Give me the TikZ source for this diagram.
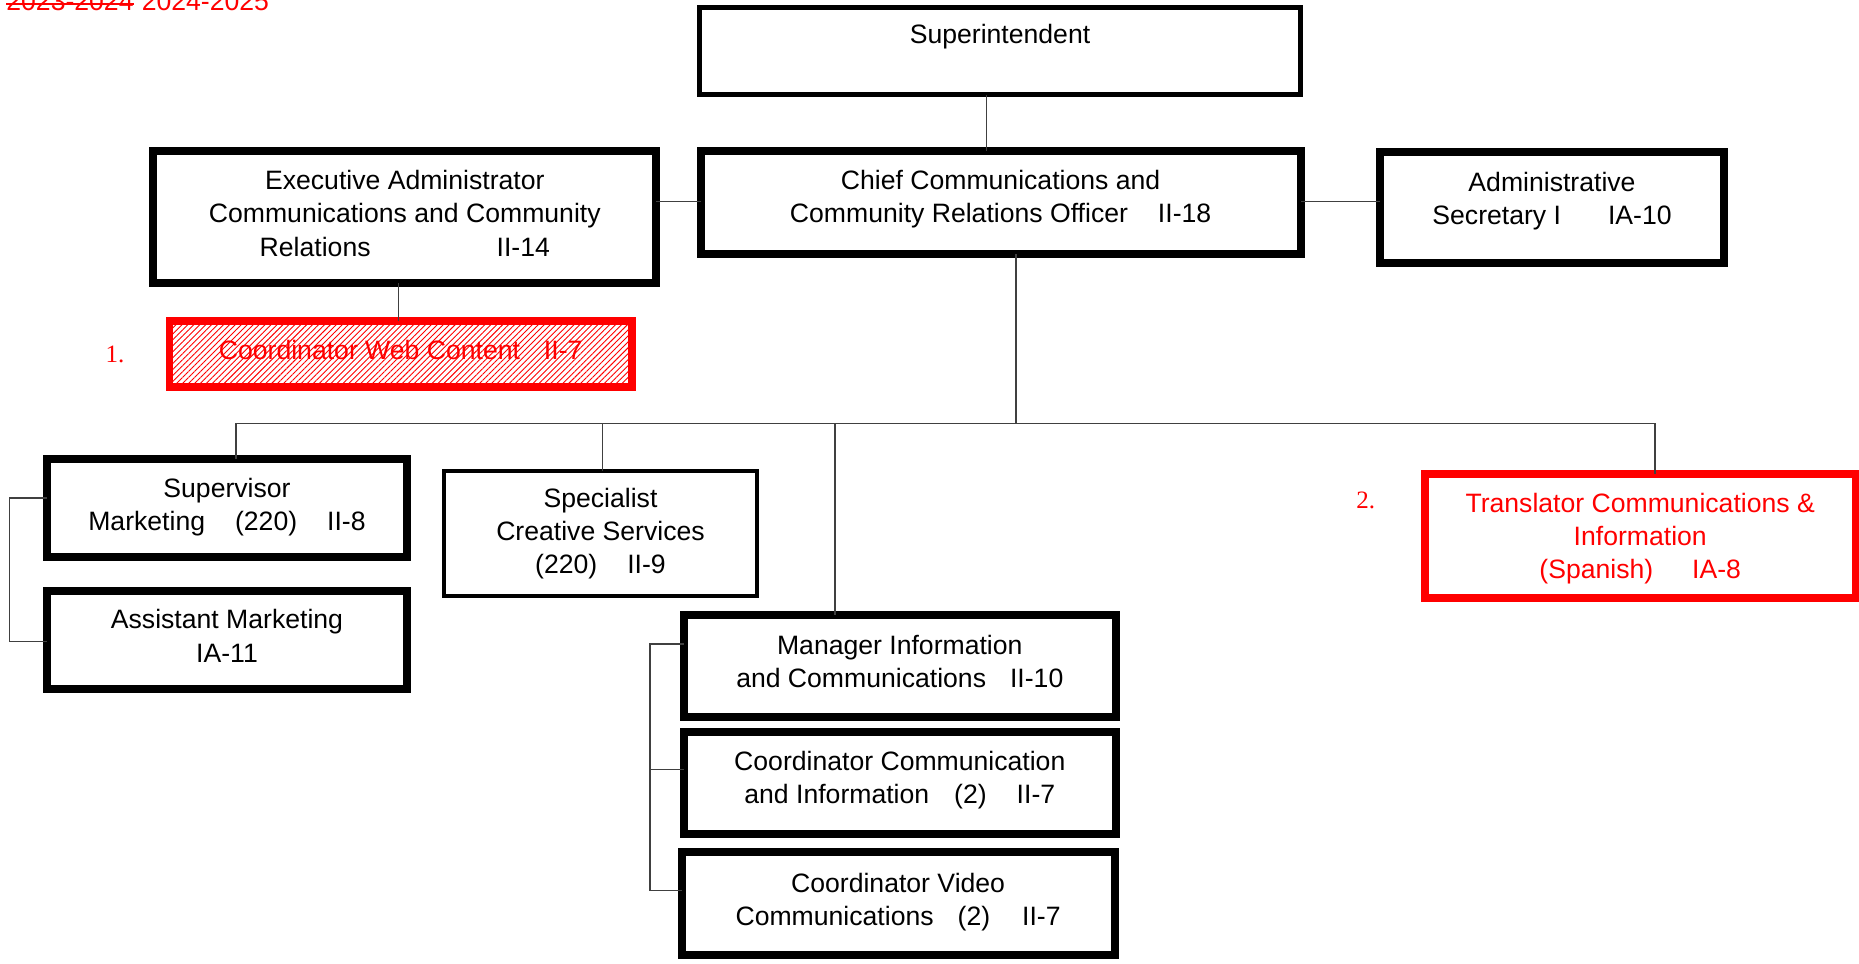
\documentclass[tikz,border=0pt]{standalone}
\usepackage{fontspec}
\setmainfont{Liberation Sans}
\newfontfamily\numserif{Liberation Serif}
\usetikzlibrary{patterns.meta}
\definecolor{conn}{HTML}{404040}
\definecolor{pure}{HTML}{FF0000}
\tikzset{
  base/.style={rectangle, outer sep=0pt, inner sep=2pt, fill=white},
  txt/.style={align=center, inner sep=0pt, font=\fontsize{13.3}{16.6}\selectfont},
  redtxt/.style={txt, text=pure},
  thickbox/.style={base, draw=black, line width=4pt},
  supbox/.style={base, draw=black, line width=2.5pt},
  thinbox/.style={base, draw=black, line width=2pt},
  redbox/.style={base, draw=pure, line width=3.8pt},
  conline/.style={draw=conn, line width=0.8pt},
  numlabel/.style={font=\numserif\fontsize{12.5}{15}\selectfont, text=pure, inner sep=0pt},
  yeartext/.style={inner sep=0pt, text=pure, font=\fontsize{13.3}{16.6}\selectfont}
}
\begin{document}
\begin{tikzpicture}[x=0.5pt,y=-0.5pt]
\useasboundingbox (0,0) rectangle (1859,964);
\fill[white] (0,0) rectangle (1859,964);

% helper coordinates
\coordinate (v1) at (986.4,0);
\coordinate (h1) at (0,201.6);
\coordinate (v2) at (398.4,0);
\coordinate (v3) at (1016.1,0);
\coordinate (busL) at (235.9,423.3);
\coordinate (busR) at (1655.1,423.3);
\coordinate (v4) at (834.7,0);
\coordinate (v5) at (602.3,0);
\coordinate (bk1) at (9.5,498);
\coordinate (bk1b) at (9.5,641.4);
\coordinate (bk2) at (649.7,643.8);
\coordinate (bk3) at (649.7,769.5);
\coordinate (bk4) at (649.7,890.4);

% boxes
\node[supbox, minimum width=300.2pt, minimum height=43.8pt,
  label={[txt, yshift=7.1pt]center:{Superintendent}}] (sup) at (1000,51) {};
\node[thickbox, minimum width=300pt, minimum height=51.5pt,
  label={[txt, yshift=1.8pt]center:{Chief Communications and\\Community Relations Officer\hspace{15pt}II-18}}] (chief) at (1000.6,202.7) {};
\node[thickbox, minimum width=251.5pt, minimum height=66.3pt,
  label={[txt, yshift=1.8pt]center:{Executive Administrator\\Communications and Community\\Relations\hspace{63pt}II-14}}] (exec) at (404.8,217) {};
\node[thickbox, minimum width=172pt, minimum height=55.1pt,
  label={[txt, yshift=3pt]center:{Administrative\\Secretary I\hspace{23.5pt}IA-10}}] (as) at (1552,207.5) {};
\node[redbox, pattern={Lines[angle=45,distance=2.1pt,line width=0.45pt]}, pattern color=pure,
  minimum width=231.2pt, minimum height=32.8pt,
  label={[redtxt, yshift=1.8pt]center:{Coordinator Web Content\hspace{12pt}II-7}}] (web) at (400.7,353.9) {};
\node[thickbox, minimum width=179.8pt, minimum height=48.6pt,
  label={[txt, yshift=0.6pt]center:{Supervisor\\Marketing\hspace{15pt}(220)\hspace{15pt}II-8}}] (sm) at (227,508) {};
\node[thickbox, minimum width=179.8pt, minimum height=49.2pt,
  label={[txt, yshift=2.2pt]center:{Assistant Marketing\\IA-11}}] (am) at (227,640.2) {};
\node[thinbox, minimum width=156.8pt, minimum height=62.2pt,
  label={[txt]center:{Specialist\\Creative Services\\(220)\hspace{15pt}II-9}}] (spec) at (600.5,533.5) {};
\node[redbox, minimum width=215.1pt, minimum height=61.8pt,
  label={[redtxt, yshift=-1.5pt]center:{Translator Communications \&\\Information\\(Spanish)\hspace{19.5pt}IA-8}}] (tr) at (1640.2,535.9) {};
\node[thickbox, minimum width=215.9pt, minimum height=51pt,
  label={[txt, yshift=2.2pt]center:{Manager Information\\and Communications\hspace{12pt}II-10}}] (mgr) at (899.8,665.7) {};
\node[thickbox, minimum width=215.9pt, minimum height=51pt,
  label={[txt, yshift=1.4pt]center:{Coordinator Communication\\and Information\hspace{12.5pt}(2)\hspace{15pt}II-7}}] (cc) at (899.8,783.1) {};
\node[thickbox, minimum width=216.6pt, minimum height=51.5pt,
  label={[txt, yshift=0.6pt]center:{Coordinator Video\\Communications\hspace{12pt}(2)\hspace{16pt}II-7}}] (vid) at (898.1,903.5) {};

% connectors
\draw[conline] (sup.south -| v1) -- (chief.north -| v1);
\draw[conline] (exec.east |- h1) -- (chief.west |- h1);
\draw[conline] (chief.east |- h1) -- (as.west |- h1);
\draw[conline] (exec.south -| v2) -- (web.north -| v2);
\draw[conline] (chief.south -| v3) -- (v3 |- busL);
\draw[conline] (sm.north -| busL) -- (busL) -- (busR) -- (tr.north -| busR);
\draw[conline] (spec.north -| v5) -- (v5 |- busL);
\draw[conline] (mgr.north -| v4) -- (v4 |- busL);
\draw[conline] (sm.west |- bk1) -- (bk1) -- (bk1b) -- (am.west |- bk1b);
\draw[conline] (mgr.west |- bk2) -- (bk2) -- (bk4) -- (vid.west |- bk4);
\draw[conline] (bk3) -- (cc.west |- bk3);

% labels
\node[numlabel] (n1) at (115,354.5) {1.};
\node[numlabel] (n2) at (1365.8,500.3) {2.};
\node[yeartext, anchor=base west] (yrold) at (6,10) {2023-2024};
\node[yeartext, anchor=base west] (yrnew) at ([xshift=3.7pt]yrold.base east) {2024-2025};
\draw[pure, line width=0.9pt] ([yshift=3pt]yrold.base west) -- ([yshift=3pt]yrold.base east);
\end{tikzpicture}
\end{document}
